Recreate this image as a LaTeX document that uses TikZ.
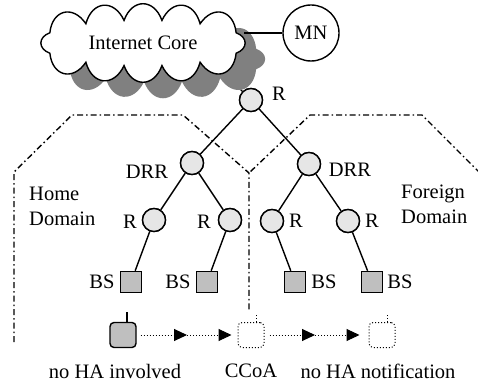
\documentclass[tikz,border=0pt]{standalone}
\usepackage{fontspec}
\setmainfont{Liberation Serif}
\usetikzlibrary{arrows.meta}
\definecolor{nodegray}{HTML}{E6E6E6}
\definecolor{bsgray}{HTML}{BFBFBF}
\definecolor{shadowgray}{HTML}{808080}
\newcommand\myCloudPath[1]{%
  \path[#1] ({143+104*cos(333.6)},{43+23*sin(333.6)})
    to[cloudpuff] ({143+104*cos(26.4)},{43+23*sin(26.4)})
    to[cloudpuff] ({143+104*cos(56.7)},{43+23*sin(56.7)})
    to[cloudpuff] ({143+104*cos(79.5)},{43+23*sin(79.5)})
    to[cloudpuff] ({143+104*cos(100.5)},{43+23*sin(100.5)})
    to[cloudpuff] ({143+104*cos(123.3)},{43+23*sin(123.3)})
    to[cloudpuff] ({143+104*cos(153.6)},{43+23*sin(153.6)})
    to[cloudpuff] ({143+104*cos(206.4)},{43+23*sin(206.4)})
    to[cloudpuff] ({143+104*cos(236.7)},{43+23*sin(236.7)})
    to[cloudpuff] ({143+104*cos(259.5)},{43+23*sin(259.5)})
    to[cloudpuff] ({143+104*cos(280.5)},{43+23*sin(280.5)})
    to[cloudpuff] ({143+104*cos(303.3)},{43+23*sin(303.3)})
    to[cloudpuff] ({143+104*cos(333.6)},{43+23*sin(333.6)}) -- cycle;}
\begin{document}
\begin{tikzpicture}[x=1pt,y=-1pt,
  every node/.style={font=\fontsize{20.5}{25}\selectfont},
  router/.style={circle,draw,line width=1.4pt,fill=nodegray,minimum size=23pt,inner sep=0pt},
  bs/.style={rectangle,draw,line width=1.4pt,fill=bsgray,minimum size=21pt,inner sep=0pt},
  lbl/.style={inner sep=0pt},
  link/.style={line width=1.4pt},
  domainline/.style={line width=1.4pt,dash pattern=on 6pt off 3pt on 1.5pt off 3pt},
  cloudpuff/.style={bend left=70,looseness=1.6},
  mobile/.style={rectangle,rounded corners=4pt,minimum width=26pt,minimum height=25pt,inner sep=0pt},
  dotarrow/.style={line width=1pt,dotted,-{Triangle[length=13pt,width=12pt]}}
]
\useasboundingbox (0,0) rectangle (478,382);

% connector from root router up into the cloud shadow (drawn first, hidden by shadow)
\coordinate (cl) at (222,71);
\node[router] (r0) at (251,100) {};
\draw[link] (r0) -- (cl);

% cloud with shadow
\begin{scope}[shift={(20,16)}]
  \myCloudPath{fill=shadowgray}
\end{scope}
\myCloudPath{draw,line width=1.4pt,fill=white}
\node[lbl] (cloud) at (143,43) {Internet Core};
\node[circle,draw,line width=1.4pt,minimum size=56pt,inner sep=0pt,fill=white] (mn) at (311,33) {MN};
\coordinate (cloudedge) at (244,33);
\draw[link] (mn.west) -- (cloudedge);

% domains
\draw[domainline] (14,342) -- (14,172) -- (72,115) -- (183,115) -- (249,173) -- (249,310);
\draw[domainline] (480,173) -- (422,115) -- (310,115) -- (249,173);

% tree
\node[router] (dl) at (192,163) {};
\node[router] (dr) at (309,164) {};
\node[router] (rll) at (154,220) {};
\node[router] (rlr) at (230,220) {};
\node[router] (rrl) at (272,221) {};
\node[router] (rrr) at (348,221) {};
\node[bs] (b1) at (131,282) {};
\node[bs] (b2) at (207,282) {};
\node[bs] (b3) at (295,282) {};
\node[bs] (b4) at (372,282) {};

\draw[link] (r0) -- (dl);
\draw[link] (r0) -- (dr);
\draw[link] (dl) -- (rll);
\draw[link] (dl) -- (rlr);
\draw[link] (dr) -- (rrl);
\draw[link] (dr) -- (rrr);
\draw[link] (rll) -- (b1);
\draw[link] (rlr) -- (b2);
\draw[link] (rrl) -- (b3);
\draw[link] (rrr) -- (b4);
% redraw nodes over links
\node[router] at (r0) {};
\node[router] at (dl) {};
\node[router] at (dr) {};
\node[router] at (rll) {};
\node[router] at (rlr) {};
\node[router] at (rrl) {};
\node[router] at (rrr) {};
\node[bs] at (b1) {};
\node[bs] at (b2) {};
\node[bs] at (b3) {};
\node[bs] at (b4) {};

% labels
\node[lbl] (lr0) at (279,94) {R};
\node[lbl] (ldl) at (147,172) {DRR};
\node[lbl] (ldr) at (350,170) {DRR};
\node[lbl] (lrll) at (130,222) {R};
\node[lbl] (lrlr) at (204,222) {R};
\node[lbl] (lrrl) at (296,221) {R};
\node[lbl] (lrrr) at (372,221) {R};
\node[lbl] (lb1) at (102,282) {BS};
\node[lbl] (lb2) at (178,282) {BS};
\node[lbl] (lb3) at (324,282) {BS};
\node[lbl] (lb4) at (400,282) {BS};
\node[lbl,align=left,anchor=west] (home) at (29,206) {Home\\Domain};
\node[lbl,align=left,anchor=west] (foreign) at (401,204) {Foreign\\Domain};

% movement row
\node[mobile,draw,line width=1.4pt,fill=bsgray] (mt) at (123,335) {};
\draw[link] ([xshift=4pt]mt.north) -- ++(0,-10);
\node[mobile,draw,line width=1pt,dotted] (cc) at (251,335) {};
\draw[line width=1pt,dotted] ([xshift=5pt]cc.north) -- ++(0,-9);
\node[mobile,draw,line width=1pt,dotted] (nn) at (382,335) {};
\draw[line width=1pt,dotted] ([xshift=5pt]nn.north) -- ++(0,-9);
\coordinate (m1) at (187,335);
\coordinate (m2) at (315,335);
\draw[dotarrow,shorten <=4pt] (mt) -- (m1);
\draw[dotarrow,shorten >=6pt] (m1) -- (cc);
\draw[dotarrow,shorten <=5pt] (cc) -- (m2);
\draw[dotarrow,shorten >=9pt] (m2) -- (nn);

\node[lbl] (t1) at (115,371) {no HA involved};
\node[lbl] (t2) at (251,371) {CCoA};
\node[lbl] (t3) at (378,371) {no HA notification};
\end{tikzpicture}
\end{document}
